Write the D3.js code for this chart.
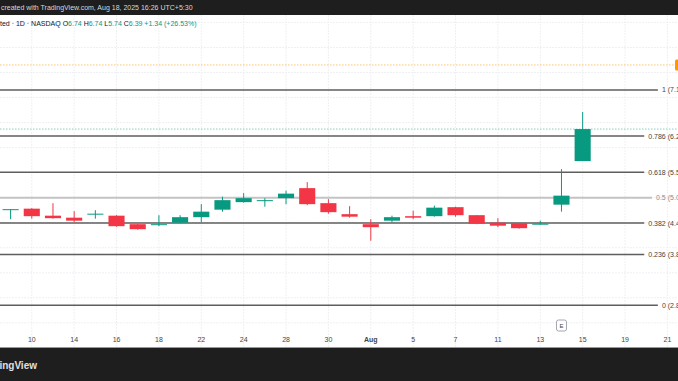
<!DOCTYPE html>
<html><head><meta charset="utf-8">
<script src="https://cdn.jsdelivr.net/npm/d3@7"></script>
<style>html,body{margin:0;padding:0;background:#fff;overflow:hidden}svg{display:block}text{font-family:"Liberation Sans",Arial,sans-serif}</style>
</head><body>
<svg id="c" width="678" height="381"></svg>
<script>
const dates = ["2025-07-09","2025-07-10","2025-07-11","2025-07-14","2025-07-15","2025-07-16","2025-07-17","2025-07-18",
"2025-07-21","2025-07-22","2025-07-23","2025-07-24","2025-07-25","2025-07-28","2025-07-29","2025-07-30","2025-07-31",
"2025-08-01","2025-08-04","2025-08-05","2025-08-06","2025-08-07","2025-08-08","2025-08-11","2025-08-12","2025-08-13",
"2025-08-14","2025-08-15"];
const futureDates = ["2025-08-18","2025-08-19","2025-08-20","2025-08-21"];
const open  = [4.76,4.78,4.64,4.60,4.67,4.64,4.47,4.45,4.50,4.61,4.76,4.91,4.94,4.99,5.19,4.89,4.67,4.47,4.54,4.63,4.63,4.81,4.65,4.50,4.49,4.47,4.86,5.73];
const high  = [4.77,4.79,4.89,4.73,4.75,4.65,4.47,4.65,4.65,4.87,5.02,5.09,4.99,5.14,5.31,4.97,4.83,4.57,4.64,4.74,4.84,4.82,4.65,4.59,4.49,4.54,5.57,6.71];
const low   = [4.57,4.58,4.58,4.51,4.58,4.42,4.36,4.43,4.49,4.51,4.72,4.90,4.82,4.87,4.85,4.68,4.60,4.14,4.51,4.57,4.62,4.62,4.47,4.41,4.38,4.46,4.72,5.73];
const close = [4.77,4.63,4.59,4.54,4.68,4.43,4.37,4.47,4.61,4.72,4.95,4.99,4.95,5.08,4.87,4.71,4.62,4.41,4.61,4.60,4.80,4.65,4.48,4.44,4.39,4.48,5.04,6.37];
const tickDates  = ["2025-07-10","2025-07-14","2025-07-16","2025-07-18","2025-07-22","2025-07-24","2025-07-28","2025-07-30","2025-08-01","2025-08-05","2025-08-07","2025-08-11","2025-08-13","2025-08-15","2025-08-19","2025-08-21"];
const tickLabels = ["10","14","16","18","22","24","28","30","Aug","5","7","11","13","15","19","21"];
const fibLevels = [1,0.786,0.618,0.5,0.382,0.236,0];
const fibLow = 2.85, fibHigh = 7.15;
const alertPrice = 7.65;
const earningsDate = "2025-08-14";
const headerText = "created with TradingView.com, Aug 18, 2025 16:26 UTC+5:30";
const legendName = "ted · 1D · NASDAQ";
const legendO = "6.74", legendH = "6.74", legendL = "5.74", legendC = "6.39", legendChg = "+1.34 (+26.53%)";

const W = 678, H = 381;
const UP = "#089981", DOWN = "#f23645";
const svg = d3.select("#c");

const x = d3.scaleBand().domain(dates.concat(futureDates)).range([0, W]).paddingInner(0.24).paddingOuter(0.12);
const y = d3.scaleLinear().domain([fibLow, fibHigh]).range([305.3, 90]);
const cx = d => x(d) + x.bandwidth() / 2;

// grid
const gridPrices = d3.range(2.0, 9.01, 0.5);
svg.append("g").selectAll("line").data(gridPrices).join("line")
  .attr("x1", 0).attr("x2", W).attr("y1", d => y(d)).attr("y2", d => y(d))
  .attr("stroke", "#eef0f4").attr("stroke-width", 1).attr("stroke-dasharray", "2,1");
svg.append("g").selectAll("line").data(tickDates).join("line")
  .attr("x1", d => cx(d)).attr("x2", d => cx(d)).attr("y1", 15).attr("y2", 347)
  .attr("stroke", "#eef0f4").attr("stroke-width", 1).attr("stroke-dasharray", "2,1");

// alert line
svg.append("line").attr("x1", 0).attr("x2", W).attr("y1", y(alertPrice)).attr("y2", y(alertPrice))
  .attr("stroke", "#ff9800").attr("stroke-width", 0.8).attr("stroke-dasharray", "1.5,1.5").attr("opacity", 0.7);
svg.append("rect").attr("x", 675).attr("y", y(alertPrice) - 5.5).attr("width", 10).attr("height", 11).attr("rx", 1.5).attr("fill", "#ff9800");

// fib levels
const fibG = svg.append("g");
fibLevels.forEach(l => {
  const p = fibLow + l * (fibHigh - fibLow);
  const mid = l === 0.5;
  const t = fibG.append("text").attr("x", 686).attr("y", y(p)).attr("dy", "0.35em")
    .attr("text-anchor", "end").attr("font-size", 7).attr("fill", mid ? "#8a8a8a" : "#444")
    .text(`${l} (${p.toFixed(2)})`);
  const tw = t.node().getComputedTextLength();
  fibG.insert("line", "text").attr("x1", 0).attr("x2", 686 - tw - 4).attr("y1", y(p)).attr("y2", y(p))
    .attr("stroke", mid ? "#c3c3c3" : "#5e5e5e").attr("stroke-width", mid ? 2 : 1.4);
});

// close price line
svg.append("line").attr("x1", 0).attr("x2", W).attr("y1", y(close[close.length - 1])).attr("y2", y(close[close.length - 1]))
  .attr("stroke", UP).attr("stroke-width", 0.8).attr("stroke-dasharray", "1.5,1.5").attr("opacity", 0.6);

// candles
const candles = dates.map((d, i) => ({d, o: open[i], h: high[i], l: low[i], c: close[i]}));
const cg = svg.append("g");
cg.selectAll("line").data(candles).join("line")
  .attr("x1", d => cx(d.d)).attr("x2", d => cx(d.d))
  .attr("y1", d => y(d.h)).attr("y2", d => y(d.l))
  .attr("stroke", d => d.c >= d.o ? UP : DOWN).attr("stroke-width", 1);
cg.selectAll("rect").data(candles).join("rect")
  .attr("x", d => x(d.d)).attr("width", x.bandwidth())
  .attr("y", d => y(Math.max(d.o, d.c)))
  .attr("height", d => Math.max(1, Math.abs(y(d.o) - y(d.c))))
  .attr("fill", d => d.c >= d.o ? UP : DOWN);

// earnings marker
const ex = cx(earningsDate);
svg.append("rect").attr("x", ex - 5).attr("y", 320).attr("width", 10).attr("height", 11).attr("rx", 2)
  .attr("fill", "#fff").attr("stroke", "#a3a6af").attr("stroke-width", 1);
svg.append("text").attr("x", ex).attr("y", 325.5).attr("dy", "0.35em").attr("text-anchor", "middle")
  .attr("font-size", 6).attr("fill", "#444").text("E");

// x axis
const axis = d3.axisBottom(x).tickValues(tickDates).tickSize(0).tickPadding(0)
  .tickFormat(d => tickLabels[tickDates.indexOf(d)]);
const ag = svg.append("g").attr("transform", "translate(0,337)").call(axis);
ag.select(".domain").remove();
ag.selectAll("text").attr("font-size", 7).attr("fill", "#444").attr("font-family", "Liberation Sans, Arial, sans-serif")
  .attr("font-weight", d => tickLabels[tickDates.indexOf(d)] === "Aug" ? "bold" : "normal");

// bands
svg.append("line").attr("x1", 0).attr("x2", W).attr("y1", 347.5).attr("y2", 347.5).attr("stroke", "#999").attr("stroke-width", 1);
svg.append("rect").attr("x", 0).attr("y", 348).attr("width", W).attr("height", H - 348).attr("fill", "#1e1e1e");
svg.append("rect").attr("x", 0).attr("y", 0).attr("width", W).attr("height", 15).attr("fill", "#1e1e1e");
svg.append("text").attr("x", 1).attr("y", 7.5).attr("dy", "0.35em").attr("font-size", 7).attr("fill", "#d8d8d8").text(headerText);
svg.append("text").attr("x", 37).attr("y", 365).attr("dy", "0.35em").attr("text-anchor", "end")
  .attr("font-size", 10).attr("font-weight", "bold").attr("fill", "#e0e0e0").text("TradingView");

// legend
const lg = svg.append("text").attr("x", 0).attr("y", 24).attr("dy", "0.35em").attr("font-size", 7).attr("fill", "#131722");
lg.append("tspan").text(legendName + "  O");
lg.append("tspan").attr("fill", UP).text(legendO);
lg.append("tspan").text("  H");
lg.append("tspan").attr("fill", UP).text(legendH);
lg.append("tspan").text("  L");
lg.append("tspan").attr("fill", UP).text(legendL);
lg.append("tspan").text("  C");
lg.append("tspan").attr("fill", UP).text(legendC + "  " + legendChg);
</script>
</body></html>
